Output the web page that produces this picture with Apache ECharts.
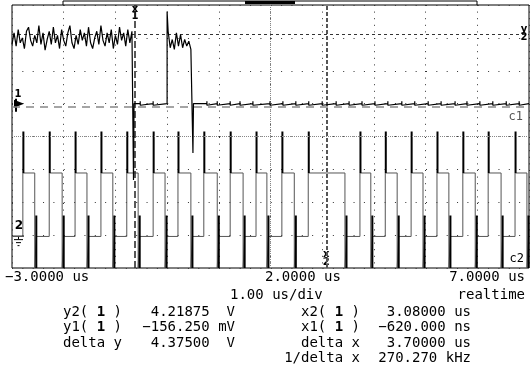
<!DOCTYPE html>
<html>
<head>
<meta charset="utf-8">
<script src="https://cdn.jsdelivr.net/npm/echarts@6/dist/echarts.min.js"></script>
<style>
  html, body { margin: 0; padding: 0; background: #fff; }
  #main { width: 531px; height: 375px; }
</style>
</head>
<body>
<div id="main"></div>
<script>
var chartDom = document.getElementById('main');
var myChart = echarts.init(chartDom);
var option;

// time base (us), 1 us/div
var timeMin = -3, timeMax = 7, timeDiv = 1;
// both channels 2 V/div, different offsets
var ch1Min = -10, ch1Max = 6;
var ch2Min = -2, ch2Max = 14;
var voltDiv = 2;
var ch1Center = -2;
var timeCenter = 2;

// cursors
var x1 = -0.62, x2 = 3.08;
var y1 = -0.15625, y2 = 4.21875;

// channel 1: noisy high level, one sample every 0.04 us
var ch1Step = 0.04;
var ch1Start1 = -3.0;
var ch1High1 = [
    3.6, 4.3, 3.5, 4.5, 3.7, 4.0, 3.35, 4.4, 4.65, 3.85,
    3.5, 4.15, 3.7, 4.75, 3.6, 4.3, 3.25, 3.9, 4.4, 3.6,
    4.65, 3.7, 4.15, 3.35, 4.5, 3.85, 3.5, 4.3, 4.75, 3.7,
    3.35, 4.15, 3.6, 4.5, 3.85, 4.3, 3.5, 4.65, 3.7, 3.35,
    4.0, 4.4, 3.6, 4.75, 3.85, 3.5, 4.3, 3.7, 4.5, 3.35,
    4.15, 3.6, 4.65, 3.85, 4.3, 3.5, 4.5, 3.7, 4.4
];
var ch1GlitchTime = -0.65, ch1GlitchLow = -4.65;
var ch1SpikeTime = 0.0, ch1SpikeHigh = 5.6;
var ch1Start2 = 0.02;
var ch1High2 = [4.4, 3.4, 3.9, 3.3, 4.3, 3.5, 4.2, 3.4, 3.9, 3.5, 3.8, 3.3];
var ch1DropTime = 0.5, ch1DropLow = -3.0;
var ch1Base = 0;
var ch1Ticks = [-0.52, -0.27, 0.77, 0.97, 1.22, 1.41, 1.66, 1.99, 2.24, 2.49, 2.74, 3.0,
    3.27, 3.52, 3.77, 4.02, 4.27, 4.54, 4.79, 5.05, 5.30, 5.57, 5.80, 6.05, 6.30, 6.56, 6.81];
var ch1TickUp = 0.15, ch1TickDown = -0.1;

// channel 2: pulse train edges (us) and levels (V)
var ch2Rise = [-2.79, -2.28, -1.78, -1.28, -0.78, -0.27, 0.21, 0.71, 1.22, 1.72,
    2.22, 2.73, 3.73, 4.22, 4.72, 5.22, 5.72, 6.21, 6.73];
var ch2Fall = [-2.56, -2.03, -1.55, -1.05, -0.56, -0.04, 0.46, 0.97, 1.47, 1.93,
    2.46, 3.44, 3.94, 4.45, 4.95, 5.45, 5.96, 6.46, 6.96];
var ch2Low = -0.08, ch2High = 3.78, ch2Overshoot = 6.3, ch2Ring = 1.2, ch2Clip = -2;

// ---- build traces ----
var ch1Data = [];
ch1High1.forEach(function (v, i) { ch1Data.push([ch1Start1 + i * ch1Step, v]); });
ch1Data.push([ch1GlitchTime, ch1GlitchLow]);
ch1Data.push([ch1GlitchTime + 0.01, ch1Base]);
function pushTicks(from, to) {
    ch1Ticks.forEach(function (t) {
        if (t > from && t < to) {
            ch1Data.push([t, ch1Base], [t, ch1TickUp], [t, ch1TickDown], [t, ch1Base]);
        }
    });
}
pushTicks(ch1GlitchTime, ch1SpikeTime);
ch1Data.push([ch1SpikeTime, ch1Base], [ch1SpikeTime, ch1SpikeHigh]);
ch1High2.forEach(function (v, i) { ch1Data.push([ch1Start2 + i * ch1Step, v]); });
ch1Data.push([ch1DropTime, ch1DropLow]);
ch1Data.push([ch1DropTime + 0.01, ch1Base]);
pushTicks(ch1DropTime, timeMax);
ch1Data.push([timeMax, ch1Base]);

var ch2Data = [[timeMin, ch2Low]];
var ch2Marks = [];
ch2Rise.forEach(function (r, i) {
    var f = ch2Fall[i];
    ch2Data.push([r, ch2Low], [r, ch2High], [f, ch2High], [f, ch2Clip],
        [f + 0.03, ch2Clip], [f + 0.03, ch2Low]);
    ch2Marks.push([r + 0.01, ch2High], [r + 0.01, ch2Overshoot], [r + 0.01, '-']);
    ch2Marks.push([f + 0.03, ch2Clip], [f + 0.03, ch2Ring], [f + 0.03, '-']);
});
ch2Data.push([timeMax, ch2Low]);

var mono = 'DejaVu Sans Mono';
function txt(x, y, s, align, extra) {
    var st = { text: s, fontFamily: mono, fontSize: 14, fill: '#000', align: align || 'left', verticalAlign: 'middle' };
    if (extra) { for (var k in extra) st[k] = extra[k]; }
    return { type: 'text', x: x, y: y, silent: true, style: st };
}
function chanLabel(prefix) {
    return {
        text: '{n|' + prefix + '(}{b| 1 }{n|)}',
        rich: {
            n: { fontFamily: mono, fontSize: 14, fill: '#000' },
            b: { fontFamily: mono, fontSize: 14, fontWeight: 'bold', fill: '#000' }
        }
    };
}

var staticGraphics = [
    // memory bar
    { type: 'polyline', silent: true, shape: { points: [[63, 5], [63, 1], [477, 1], [477, 5]] }, style: { stroke: '#000', lineWidth: 1, fill: null } },
    { type: 'rect', silent: true, shape: { x: 245, y: 1, width: 50, height: 3 }, style: { fill: '#000' } },
    // time readouts
    txt(5, 277, '\u22123.0000 us'),
    txt(265, 277, '2.0000 us'),
    txt(525, 277, '7.0000 us', 'right'),
    txt(230, 295, '1.00 us/div'),
    txt(525, 295, 'realtime', 'right'),
    // cursor readouts
    txt(122, 312, '', 'right', chanLabel('y2')),
    txt(122, 327, '', 'right', chanLabel('y1')),
    txt(122, 343, 'delta y', 'right'),
    txt(235, 312, '4.21875  V', 'right'),
    txt(235, 327, '\u2212156.250 mV', 'right'),
    txt(235, 343, '4.37500  V', 'right'),
    txt(360, 312, '', 'right', chanLabel('x2')),
    txt(360, 327, '', 'right', chanLabel('x1')),
    txt(360, 343, 'delta x', 'right'),
    txt(360, 358, '1/delta x', 'right'),
    txt(471, 312, '3.08000 us', 'right'),
    txt(471, 327, '\u2212620.000 ns', 'right'),
    txt(471, 343, '3.70000 us', 'right'),
    txt(471, 358, '270.270 kHz', 'right'),
    // trace labels
    txt(523, 117, 'c1', 'right', { fontSize: 12, fill: '#555' }),
    txt(524, 259, 'c2', 'right', { fontSize: 12 })
];

option = {
    animation: false,
    backgroundColor: '#fff',
    grid: { left: 12, right: 2, top: 5, bottom: 107, show: true, borderColor: '#000', borderWidth: 1 },
    xAxis: {
        type: 'value', min: timeMin, max: timeMax, interval: timeDiv,
        axisLine: { show: false }, axisTick: { show: false }, axisLabel: { show: false },
        splitLine: { show: true, lineStyle: { color: '#333', width: 1, type: [1, 5.6] } }
    },
    yAxis: [{
        type: 'value', min: ch1Min, max: ch1Max, interval: voltDiv,
        axisLine: { show: false }, axisTick: { show: false }, axisLabel: { show: false },
        splitLine: { show: true, lineStyle: { color: '#333', width: 1, type: [1, 9.35] } }
    }, {
        type: 'value', min: ch2Min, max: ch2Max, interval: voltDiv, show: false,
        splitLine: { show: false }
    }],
    series: [{
        name: 'ch2', type: 'line', yAxisIndex: 1, data: ch2Data, symbol: 'none',
        lineStyle: { color: '#555', width: 1 }, z: 3
    }, {
        name: 'ch2 edges', type: 'line', yAxisIndex: 1, data: ch2Marks, symbol: 'none',
        connectNulls: false, lineStyle: { color: '#000', width: 2 }, z: 4
    }, {
        name: 'ch1', type: 'line', yAxisIndex: 0, data: ch1Data, symbol: 'none',
        lineStyle: { color: '#000', width: 1.2 }, z: 5,
        markLine: {
            silent: true, symbol: ['none', 'none'], label: { show: false },
            data: [
                { xAxis: timeCenter, lineStyle: { color: '#888', type: [1, 1], width: 1 } },
                { yAxis: ch1Center, lineStyle: { color: '#888', type: [1, 1], width: 1 } },
                { xAxis: x1, lineStyle: { color: '#222', type: [7, 3], width: 1.5 } },
                { xAxis: x2, lineStyle: { color: '#555', type: [4, 2], width: 2 } },
                { yAxis: y2, lineStyle: { color: '#333', type: [3, 3], width: 1 } },
                { yAxis: y1, lineStyle: { color: '#888', type: [8, 6], width: 1.5 } }
            ]
        }
    }]
};

option && myChart.setOption(option);

// cursor and ground markers placed from axis values
var px1 = myChart.convertToPixel({ xAxisIndex: 0 }, x1);
var px2 = myChart.convertToPixel({ xAxisIndex: 0 }, x2);
var py2 = myChart.convertToPixel({ yAxisIndex: 0 }, y2);
var pg1 = myChart.convertToPixel({ yAxisIndex: 0 }, ch1Base);
var pg2 = myChart.convertToPixel({ yAxisIndex: 1 }, 0);
var small = { fontSize: 10, fontWeight: 'bold', fontFamily: 'DejaVu Sans', align: 'center' };

var markers = [
    txt(px1, 9, 'x', 'center', small),
    txt(px1, 16, '1', 'center', small),
    txt(px2, 254, 'x', 'center', small),
    txt(px2, 262, '2', 'center', small),
    txt(524, py2 - 5, 'y', 'center', small),
    txt(524, py2 + 3, '2', 'center', small),
    txt(18, pg1 - 9, '1', 'center', small),
    { type: 'polygon', silent: true, shape: { points: [[14, pg1 - 4], [24, pg1], [14, pg1 + 4]] }, style: { fill: '#000' } },
    { type: 'line', silent: true, shape: { x1: 16, y1: pg1 - 5, x2: 16, y2: pg1 + 8 }, style: { stroke: '#000', lineWidth: 2 } },
    txt(19, pg2 - 9, '2', 'center', { fontSize: 12, fontWeight: 'bold', fontFamily: 'DejaVu Sans' }),
    { type: 'line', silent: true, shape: { x1: 13, y1: pg2 + 1, x2: 24, y2: pg2 + 1 }, style: { stroke: '#000', lineWidth: 1 } },
    { type: 'line', silent: true, shape: { x1: 18.5, y1: pg2 + 1, x2: 18.5, y2: pg2 + 4 }, style: { stroke: '#000', lineWidth: 1 } },
    { type: 'line', silent: true, shape: { x1: 14, y1: pg2 + 4.5, x2: 23, y2: pg2 + 4.5 }, style: { stroke: '#000', lineWidth: 1 } },
    { type: 'line', silent: true, shape: { x1: 16, y1: pg2 + 7.5, x2: 21, y2: pg2 + 7.5 }, style: { stroke: '#000', lineWidth: 1 } },
    { type: 'line', silent: true, shape: { x1: 17.5, y1: pg2 + 10.5, x2: 19.5, y2: pg2 + 10.5 }, style: { stroke: '#000', lineWidth: 1 } }
];

myChart.setOption({ graphic: staticGraphics.concat(markers) });
</script>
</body>
</html>
